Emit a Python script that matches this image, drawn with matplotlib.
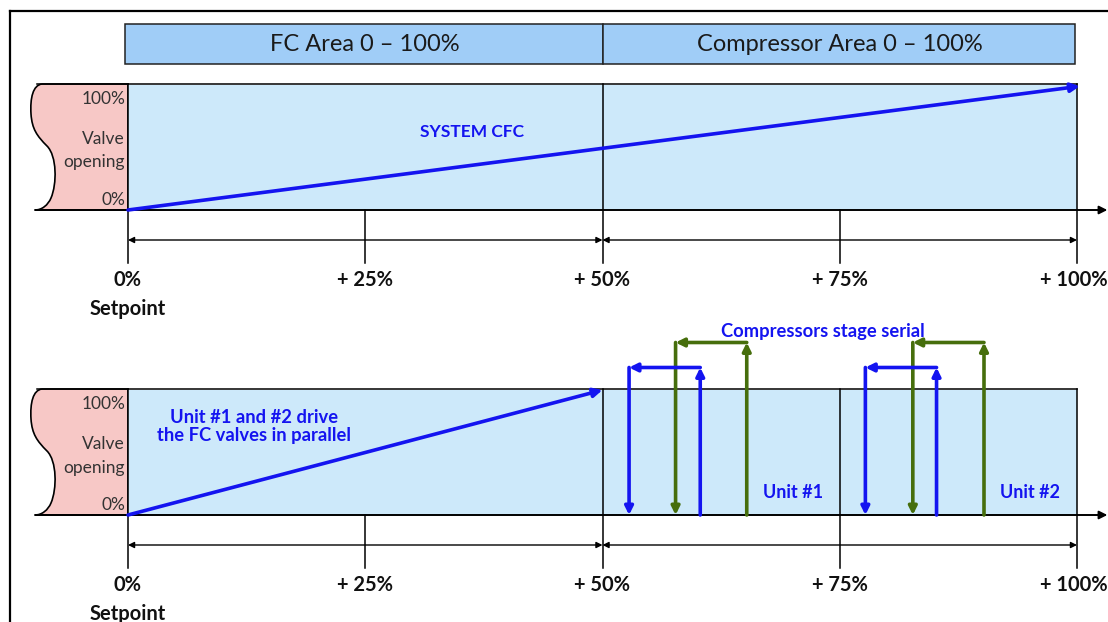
import matplotlib
matplotlib.use("Agg")
import matplotlib.pyplot as plt
from matplotlib.patches import Rectangle, PathPatch
from matplotlib.path import Path

plt.rcParams['font.family'] = ['Lato', 'DejaVu Sans']

# ---------------- data ----------------
setpoint_ticks = [0, 25, 50, 75, 100]
tick_labels = ['0%', '+ 25%', '+ 50%', '+ 75%', '+ 100%']
area_bounds = [0, 50, 100]
area_labels = ['FC Area 0 – 100%', 'Compressor Area 0 – 100%']

system_cfc_x = [0, 100]
system_cfc_y = [0, 100]

parallel_x = [0, 50]
parallel_y = [0, 100]

blue_stage_on = [60.3, 85.2]
blue_stage_off = [52.8, 77.7]
blue_stage_top = 118
green_stage_on = [65.2, 90.2]
green_stage_off = [57.7, 82.7]
green_stage_top = 138

unit_labels = ['Unit #1', 'Unit #2']
unit_label_x = [70.1, 95.0]

# ---------------- style ----------------
W, H = 1108, 622
BLUE = '#1414F0'
GREEN = '#466E0C'
PANEL = '#CDE9FA'
HEADER = '#A0CDF7'
PINK = '#F7C8C6'
TXT = '#333333'

fig = plt.figure(figsize=(W / 100, H / 100), dpi=100)
canvas = fig.add_axes([0, 0, 1, 1])
canvas.set_xlim(0, W)
canvas.set_ylim(H, 0)
canvas.axis('off')

# outer frame
canvas.plot([10, 10], [11, H], color='black', lw=1.6)
canvas.plot([10, W], [11, 11], color='black', lw=1.6)

X0, X1 = 128, 1077


def pink_shape(top, bottom):
    verts = [
        (X0, top), (42, top),
        (33, top + 1), (30, top + 14), (31, top + 30),
        (32, top + 45), (37, top + 52), (47, top + 62),
        (57, top + 72), (57, top + 100), (51, top + 114),
        (48, top + 121), (42, bottom), (35, bottom),
        (X0, bottom), (X0, top),
    ]
    codes = [Path.MOVETO, Path.LINETO,
             Path.CURVE4, Path.CURVE4, Path.CURVE4,
             Path.CURVE4, Path.CURVE4, Path.CURVE4,
             Path.CURVE4, Path.CURVE4, Path.CURVE4,
             Path.CURVE4, Path.CURVE4, Path.CURVE4,
             Path.LINETO, Path.CLOSEPOLY]
    canvas.add_patch(PathPatch(Path(verts, codes), facecolor=PINK,
                               edgecolor='black', lw=1.2, zorder=1))


pink_shape(84, 210)
pink_shape(389, 515)

# panel axes (x: setpoint %, y: valve opening %)
ax_w = (X1 - X0) / W
ax_h = 125 / H
ax_top = fig.add_axes([X0 / W, (H - 210) / H, ax_w, ax_h])
ax_bot = fig.add_axes([X0 / W, (H - 515) / H, ax_w, ax_h])
for ax in (ax_top, ax_bot):
    ax.set_xlim(0, 100)
    ax.set_ylim(0, 100)
    ax.set_facecolor(PANEL)
    for s in ax.spines.values():
        s.set_visible(False)
    ax.set_xticks([])
    ax.set_yticks([])


def arrow(ax, p0, p1, color, lw, style='-|>', ms=14, z=5):
    ax.annotate('', xy=p1, xytext=p0, xycoords='data',
                arrowprops=dict(arrowstyle=style, color=color, lw=lw,
                                shrinkA=0, shrinkB=0, mutation_scale=ms),
                annotation_clip=False, zorder=z)


def frame_panel(ax, full_dividers):
    kw = dict(color='black', lw=1.1, clip_on=False, zorder=3)
    ax.plot([-9.6, 100], [100.8, 100.8], **kw)
    # x axis with arrow
    arrow(ax, (-9.8, 0), (103.2, 0), 'black', 1.4, ms=12, z=4)
    for t in setpoint_ticks:
        top = 100.8 if t in full_dividers else 0
        ax.plot([t, t], [top, -42], **kw)
    arrow(ax, (0, -24), (50, -24), 'black', 1.0, style='<|-|>', ms=9)
    arrow(ax, (50, -24), (100, -24), 'black', 1.0, style='<|-|>', ms=9)
    for t, lab in zip(setpoint_ticks, tick_labels):
        if t == setpoint_ticks[-1]:
            ax.text(103.2, -56, lab, ha='right', va='center', fontsize=14.5,
                    fontweight='bold', color='#111111', clip_on=False)
        else:
            ax.text(t, -56, lab, ha='center', va='center', fontsize=14.5,
                    fontweight='bold', color='#111111', clip_on=False)
    ax.text(0, -79, 'Setpoint', ha='center', va='center', fontsize=14.5,
            fontweight='bold', color='#111111', clip_on=False)
    for yv, lab in [(88.5, '100%'), (56.5, 'Valve'), (38, 'opening'), (8, '0%')]:
        ax.text(-0.3, yv, lab, ha='right', va='center', fontsize=12.5,
                color=TXT, clip_on=False)


frame_panel(ax_top, [0, 50, 100])
frame_panel(ax_bot, [0, 50, 75, 100])

# headers
for i, lab in enumerate(area_labels):
    x0, x1 = area_bounds[i], area_bounds[i + 1]
    xa = x0 - 0.3 if i == 0 else x0
    xb = x1 if i == 0 else x1 - 0.2
    ax_top.add_patch(Rectangle((xa, 116.8), xb - xa, 32, facecolor=HEADER,
                               edgecolor='#222222', lw=1.1, clip_on=False, zorder=3))
    ax_top.text((x0 + x1) / 2, 132.5, lab, ha='center', va='center',
                fontsize=17, color='#1a1a1a', clip_on=False, zorder=4)

# top panel: system CFC line
arrow(ax_top, (system_cfc_x[0], system_cfc_y[0]),
      (system_cfc_x[1] + 0.3, system_cfc_y[1] - 1), BLUE, 2.6, ms=13, z=6)
ax_top.text(36.2, 62.5, 'SYSTEM CFC', ha='center', va='center', fontsize=12.5,
            fontweight='bold', color=BLUE, zorder=6)

# bottom panel: parallel FC valves
arrow(ax_bot, (parallel_x[0], parallel_y[0]), (parallel_x[1], parallel_y[1]),
      BLUE, 2.6, ms=13, z=6)
ax_bot.text(13.3, 71, 'Unit #1 and #2 drive\nthe FC valves in parallel',
            ha='center', va='center', fontsize=13.2, fontweight='bold',
            color=BLUE, linespacing=1.1, zorder=6)


def stage(ax, x_on, x_off, top, color):
    arrow(ax, (x_on, 0), (x_on, top), color, 2.6, ms=12, z=7)
    arrow(ax, (x_on, top), (x_off, top), color, 2.6, ms=12, z=7)
    arrow(ax, (x_off, top), (x_off, 0), color, 2.6, ms=12, z=7)


for on, off in zip(green_stage_on, green_stage_off):
    stage(ax_bot, on, off, green_stage_top, GREEN)
for on, off in zip(blue_stage_on, blue_stage_off):
    stage(ax_bot, on, off, blue_stage_top, BLUE)

ax_bot.text(73.2, 147, 'Compressors stage serial', ha='center', va='center',
            fontsize=13.2, fontweight='bold', color=BLUE, clip_on=False, zorder=8)
for x, lab in zip(unit_label_x, unit_labels):
    ax_bot.text(x, 17.6, lab, ha='center', va='center', fontsize=13,
                fontweight='bold', color=BLUE, zorder=8)

fig.savefig('out.png', dpi=100, facecolor='white')
